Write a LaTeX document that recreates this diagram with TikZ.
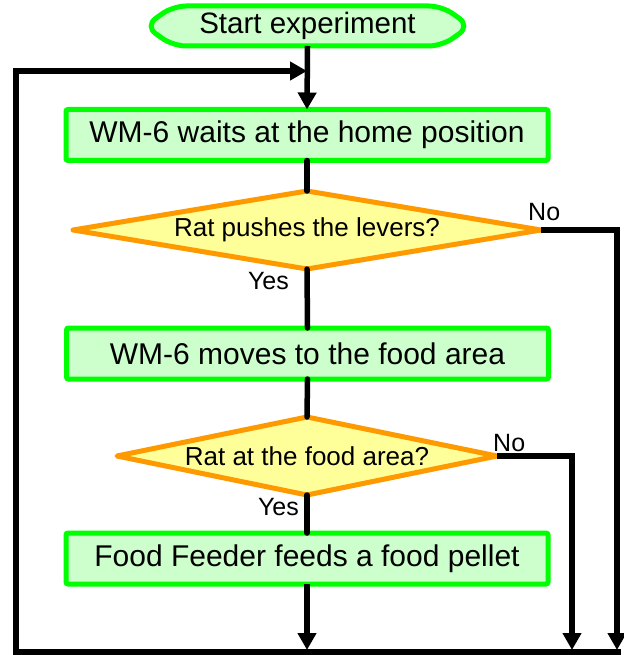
\documentclass[tikz,border=0pt]{standalone}
\usepackage{fontspec}
\setmainfont{Liberation Sans}
\usetikzlibrary{arrows.meta,shapes.geometric,backgrounds}
\definecolor{boxfill}{HTML}{CCFFCC}
\definecolor{boxline}{HTML}{00FF00}
\definecolor{diafill}{HTML}{FFFF99}
\definecolor{dialine}{HTML}{FF9900}
\begin{document}
\begin{tikzpicture}[x=1pt,y=-1pt,
  starttext/.style={minimum width=325pt,minimum height=40pt,inner sep=0pt,outer sep=0pt,font=\fontsize{29.5}{35}\selectfont},
  startshape/.style={draw=boxline,fill=boxfill,line width=5pt,rounded corners=13pt},
  procbox/.style={draw=boxline,fill=boxfill,line width=5pt,rounded corners=2pt,minimum width=482pt,minimum height=51pt,inner sep=0pt,outer sep=0pt,font=\fontsize{30}{36}\selectfont},
  decision/.style={diamond,draw=dialine,fill=diafill,line width=5pt,line join=round,inner sep=0pt,outer sep=0pt,aspect=6,font=\fontsize{26}{31}\selectfont},
  flow/.style={line width=5.5pt,line cap=round},
  flowarrow/.style={line width=5.5pt,line join=miter,-{Triangle[width=18pt,length=17pt]}},
  answer/.style={font=\fontsize{25}{30}\selectfont,inner sep=0pt},
  ]
\useasboundingbox (0,0) rectangle (623,655);

\node[starttext] (start) at (307.5,26) {Start experiment};
\begin{scope}[on background layer]
\draw[startshape] ([xshift=28pt]start.north west) -- ([xshift=-28pt]start.north east) -- (start.east) -- ([xshift=-28pt]start.south east) -- ([xshift=28pt]start.south west) -- (start.west) -- cycle;
\end{scope}

\node[procbox] (box1) at (307,135) {WM-6 waits at the home position};
\node[decision,minimum width=468pt,minimum height=78pt] (dia1) at (307,230) {Rat pushes the levers?};
\node[procbox] (box2) at (307.5,353.5) {WM-6 moves to the food area};
\node[decision,minimum width=380pt,minimum height=78pt] (dia2) at (307,456) {Rat at the food area?};
\node[procbox] (box3) at (307,558.5) {Food Feeder feeds a food pellet};

\draw[flowarrow] (start.south) -- (box1.north);
\draw[flow] (box1.south) -- (dia1.north);
\draw[flow] (dia1.south) -- (box2.north);
\draw[flow] (box2.south) -- (dia2.north);
\draw[flow] (dia2.south) -- (box3.north);

\coordinate (b3end) at (307,650);
\coordinate (r1end) at (617,650);
\coordinate (r2end) at (572,650);
\coordinate (bright) at (621,652);
\coordinate (bleft) at (16,652);
\coordinate (tleft) at (16,71);
\coordinate (join) at (307,71);

\draw[flowarrow] (box3.south) -- (b3end);
\draw[flowarrow] (dia1.east) -| (r1end);
\draw[flowarrow] (dia2.east) -| (r2end);
\draw[flowarrow] (bright) -- (bleft) -- (tleft) -- (join);

\node[answer,anchor=base west] (no1) at (528,220) {No};
\node[answer,anchor=base east] (yes1) at (289,289) {Yes};
\node[answer,anchor=base west] (no2) at (493,451) {No};
\node[answer,anchor=base east] (yes2) at (299,515) {Yes};
\end{tikzpicture}
\end{document}
